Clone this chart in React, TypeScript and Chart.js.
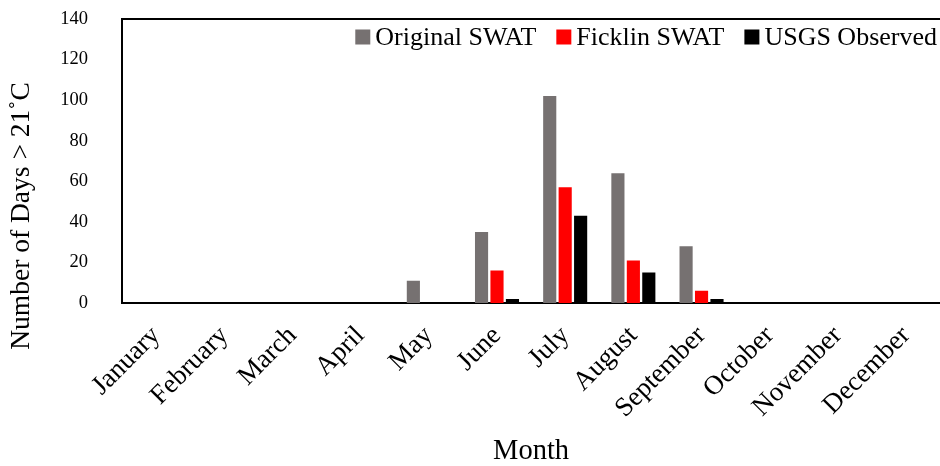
import React, { useEffect, useRef } from "react";
import { Chart, registerables } from "chart.js";

Chart.register(...registerables);

const months = ["January", "February", "March", "April", "May", "June", "July", "August", "September", "October", "November", "December"];
const originalSwat = [0, 0, 0, 0, 11, 35, 102, 64, 28, 0, 0, 0];
const ficklinSwat = [0, 0, 0, 0, 0, 16, 57, 21, 6, 0, 0, 0];
const usgsObserved = [0, 0, 0, 0, 0, 2, 43, 15, 2, 0, 0, 0];
const seriesLabels = ["Original SWAT", "Ficklin SWAT", "USGS Observed"];
const seriesColors = ["#767171", "#FF0000", "#000000"];
const yTitle = "Number of Days > 21˚C";
const xTitle = "Month";

const FONT = '"Liberation Serif", "Times New Roman", serif';

const framePlugin = {
  id: "frameAndLegend",
  afterDraw(chart: any) {
    const { ctx, chartArea } = chart;
    ctx.save();
    // top frame line
    ctx.strokeStyle = "#000";
    ctx.lineWidth = 2;
    ctx.beginPath();
    ctx.moveTo(chartArea.left - 1, chartArea.top);
    ctx.lineTo(chart.width, chartArea.top);
    ctx.stroke();
    // y-axis title
    ctx.fillStyle = "#000";
    ctx.font = "27.5px " + FONT;
    ctx.textAlign = "center";
    ctx.textBaseline = "middle";
    ctx.translate(22, 216);
    ctx.rotate(-Math.PI / 2);
    ctx.fillText(yTitle, 0, 0);
    ctx.setTransform(1, 0, 0, 1, 0, 0);
    // legend
    ctx.font = "26px " + FONT;
    ctx.textBaseline = "middle";
    ctx.textAlign = "left";
    const ds = chart.data.datasets;
    let x = 937;
    const yc = 37;
    const box = 15;
    for (let i = ds.length - 1; i >= 0; i--) {
      const w = ctx.measureText(ds[i].label).width;
      const tx = x - w;
      ctx.fillStyle = "#000";
      ctx.fillText(ds[i].label, tx, yc + 1);
      const bx = tx - 5 - box;
      ctx.fillStyle = ds[i].backgroundColor;
      ctx.fillRect(bx, yc - box / 2, box, box);
      x = bx - 20;
    }
    ctx.restore();
  },
};

export default function App() {
  const ref = useRef<HTMLCanvasElement>(null);
  useEffect(() => {
    const canvas = ref.current!;
    const chart = new Chart(canvas, {
      type: "bar",
      data: {
        labels: months,
        datasets: [originalSwat, ficklinSwat, usgsObserved].map((d, i) => ({
          label: seriesLabels[i],
          data: d,
          backgroundColor: seriesColors[i],
          borderWidth: 0,
          barPercentage: 0.85,
          categoryPercentage: 0.68,
        })),
      },
      options: {
        animation: false,
        responsive: false,
        maintainAspectRatio: false,
        layout: { padding: { top: 19, left: 0, right: 0, bottom: 0 } },
        plugins: { legend: { display: false }, tooltip: { enabled: false } },
        scales: {
          x: {
            grid: { display: false, drawTicks: false },
            border: { display: true, color: "#000", width: 2 },
            ticks: {
              color: "#000",
              font: { family: FONT, size: 27 },
              maxRotation: 45,
              minRotation: 45,
              padding: 17,
              autoSkip: false,
            },
            title: {
              display: true,
              text: xTitle,
              color: "#000",
              font: { family: FONT, size: 28.5 },
              padding: { top: 0, bottom: -3 },
            },
            afterFit: (s: any) => {
              s.height = 163;
            },
          },
          y: {
            min: 0,
            max: 140,
            ticks: {
              stepSize: 20,
              color: "#000",
              font: { family: FONT, size: 18.5 },
              padding: 2,
            },
            grid: { display: false, drawTicks: true, tickLength: 32, tickColor: "rgba(0,0,0,0)" },
            border: { display: true, color: "#000", width: 2 },
            title: { display: false },
            afterFit: (s: any) => {
              s.width = 122;
            },
          },
        },
      },
      plugins: [framePlugin],
    });
    return () => chart.destroy();
  }, []);
  return (
    <div style={{ position: "fixed", left: 0, top: 0, width: 940, height: 466, overflow: "hidden", background: "#fff" }}>
      <canvas ref={ref} width={946} height={466} style={{ width: 946, height: 466, display: "block" }} />
    </div>
  );
}
